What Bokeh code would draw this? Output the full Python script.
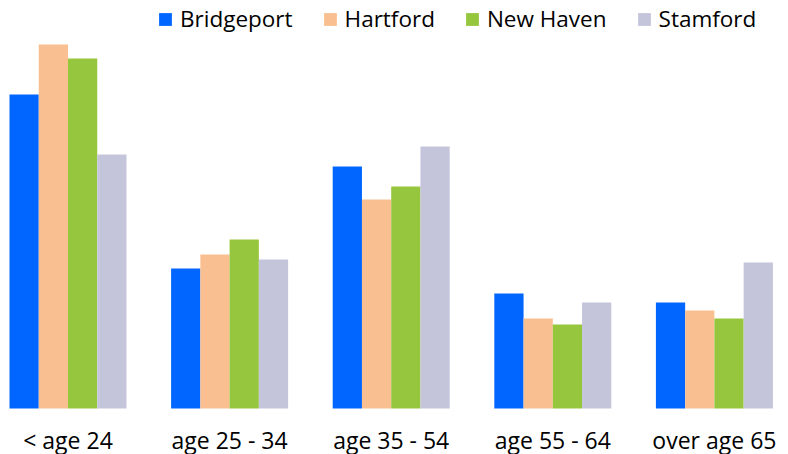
from bokeh.plotting import figure
from bokeh.models import ColumnDataSource, Range1d, Legend, LegendItem, LabelSet
from bokeh.core.properties import value
from bokeh.embed import file_html
from bokeh.resources import INLINE

categories = ["< age 24", "age 25 - 34", "age 35 - 54", "age 55 - 64", "over age 65"]
cities = ["Bridgeport", "Hartford", "New Haven", "Stamford"]
bridgeport = [31.4, 14.0, 24.2, 11.5, 10.6]
hartford = [36.4, 15.4, 20.9, 9.0, 9.8]
new_haven = [35.0, 16.9, 22.2, 8.4, 9.0]
stamford = [25.4, 14.9, 26.2, 10.6, 14.6]
colors = ["#0066FF", "#F9BF90", "#96C63E", "#C4C5DB"]

series = [bridgeport, hartford, new_haven, stamford]

FONT = "Open Sans"
bar_w = 0.181

p = figure(width=788, height=454, output_backend="svg", toolbar_location=None,
           x_range=Range1d(-0.4177, 4.4585), y_range=Range1d(-4.6, 40.8),
           min_border_left=0, min_border_right=0, min_border_top=0, min_border_bottom=0)
p.outline_line_color = None
p.background_fill_color = "white"
p.border_fill_color = "white"
p.grid.visible = False
p.xaxis.visible = False
p.yaxis.visible = False

items = []
for k, (name, vals, col) in enumerate(zip(cities, series, colors)):
    xs = [i + (k - 1.5) * bar_w for i in range(len(categories))]
    src = ColumnDataSource(dict(x=xs, top=vals))
    r = p.vbar(x="x", top="top", width=bar_w, bottom=0, source=src,
               fill_color=col, line_color=None)
    items.append(LegendItem(label=name, renderers=[r]))

lab_src = ColumnDataSource(dict(x=list(range(len(categories))), y=[0] * len(categories), text=categories))
labels = LabelSet(x="x", y="y", text="text", source=lab_src, y_offset=-40,
                  text_align="center", text_baseline="alphabetic",
                  text_font=value(FONT), text_font_size=value("23px"), text_color="#000000")
p.add_layout(labels)

legend = Legend(items=items, orientation="horizontal", location=(157, 420),
                glyph_width=16, glyph_height=16, label_standoff=7, spacing=29,
                padding=0, margin=0, border_line_color=None, background_fill_alpha=0,
                label_text_font=FONT, label_text_font_size="22.5px", label_text_color="#000000")
p.add_layout(legend, "center")

open("out.html", "w").write(file_html(p, INLINE))
